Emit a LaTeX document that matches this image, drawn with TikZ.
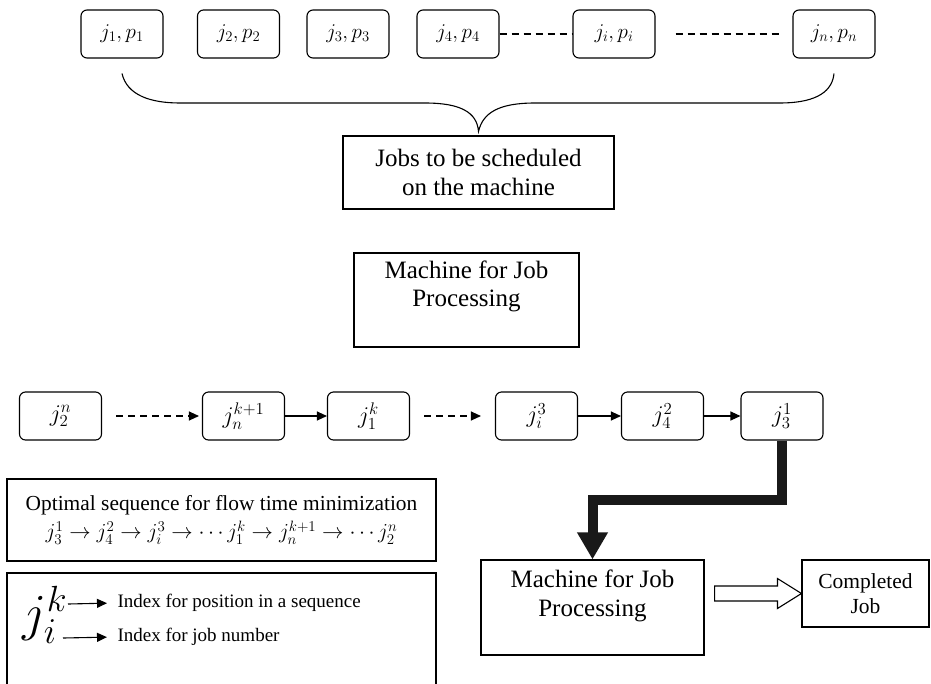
\documentclass[tikz,border=0pt]{standalone}
\usepackage{fix-cm}
\usepackage{fontspec}
\setmainfont{Liberation Serif}
\usetikzlibrary{arrows.meta,calc}

\tikzset{
  jobbox/.style={draw, line width=1.1pt, rounded corners=6pt, minimum width=82pt, minimum height=48pt, font=\fontsize{21}{24}\selectfont},
  seqbox/.style={jobbox, font=\fontsize{24}{26}\selectfont},
  plainbox/.style={draw, line width=1.1pt, align=center, font=\fontsize{25}{29}\selectfont},
  boxtext/.style={align=center, font=\fontsize{25}{28}\selectfont},
  seqarrow/.style={line width=1.1pt, -{Triangle[length=10pt,width=9pt]}},
  dots/.style={line width=1.1pt, dash pattern=on 7pt off 5pt},
}

\begin{document}
\begin{tikzpicture}[x=1pt,y=-1pt]
    \useasboundingbox (0,0) rectangle (931,683);

    % --- Jobs waiting ---
    \node[jobbox] (jp1) at (122,34) {$j_1,p_1$};
    \node[jobbox] (jp2) at (238.5,34) {$j_2,p_2$};
    \node[jobbox] (jp3) at (348,34) {$j_3,p_3$};
    \node[jobbox] (jp4) at (458,34) {$j_4,p_4$};
    \node[jobbox] (jpi) at (614,34) {$j_i,p_i$};
    \node[jobbox] (jpn) at (834,34) {$j_n,p_n$};
    \draw[dots] (jp4) -- (jpi);
    \draw[dots, shorten <=20pt, shorten >=11pt] (jpi) -- (jpn);

    % --- Brace and caption ---
    \node[plainbox, minimum width=271pt, minimum height=73pt] (jobs) at (478.5,172.5) {Jobs to be scheduled\\on the machine};
    \coordinate (brl) at ($(jp1.south)+(0,15)$);
    \coordinate (brr) at ($(jpn.south)+(0,15)$);
    \coordinate (brtip) at ($(jobs.north)+(0,-4)$);
    \draw[line width=1.1pt] (brl) .. controls (127,95) and (150,103) .. (180,103) -- (425,103)
        .. controls (460,103) and (477,112) .. (brtip)
        .. controls (483,112) and (500,103) .. (535,103) -- (780,103)
        .. controls (810,103) and (832,95) .. (brr);

    % --- Machine (idle) ---
    \node[draw, line width=1.1pt, minimum width=225pt, minimum height=94pt] (mach1) at (466.5,300) {};
    \node[boxtext, anchor=north] (mach1txt) at ($(mach1.north)+(0,5)$) {Machine for Job\\Processing};

    % --- Sequenced jobs ---
    \node[seqbox] (j2n) at (60.5,416) {$j_2^n$};
    \node[seqbox] (jnk) at (243.5,416) {$j_n^{k+1}$};
    \node[seqbox] (j1k) at (368.5,416) {$j_1^k$};
    \node[seqbox] (ji3) at (536.5,416) {$j_i^3$};
    \node[seqbox] (j42) at (662.5,416) {$j_4^2$};
    \node[seqbox] (j31) at (782,416) {$j_3^1$};
    \draw[seqarrow, dots, shorten <=14pt, shorten >=3pt] (j2n) -- (jnk);
    \draw[seqarrow] (jnk) -- (j1k);
    \draw[seqarrow, dots, shorten <=14pt, shorten >=14pt] (j1k) -- (ji3);
    \draw[seqarrow] (ji3) -- (j42);
    \draw[seqarrow] (j42) -- (j31);

    % --- Machine (busy) and output ---
    \node[draw, line width=1.1pt, minimum width=223pt, minimum height=95pt] (mach2) at (592.5,607.5) {};
    \node[boxtext, font=\fontsize{25}{29}\selectfont, anchor=north] (mach2txt) at ($(mach2.north)+(0,7)$) {Machine for Job\\Processing};
    \node[plainbox, font=\fontsize{21.5}{25}\selectfont, minimum width=127pt, minimum height=67pt] (done) at (865.5,593.5) {Completed\\Job};
    \draw[black!90, line width=10pt, -{Triangle[length=27pt,width=29pt]}] (j31.south) -- ++(0,59) -| (mach2.north);
    \draw[line width=1.1pt] let \p1=(done.west), \p2=(mach2.east) in
        (\x2+10pt,\y1+7.5pt) -- (\x1-24pt,\y1+7.5pt) -- (\x1-24pt,\y1+15pt) -- (\p1)
        -- (\x1-24pt,\y1-15pt) -- (\x1-24pt,\y1-7.5pt) -- (\x2+10pt,\y1-7.5pt) -- cycle;

    % --- Optimal sequence ---
    \node[plainbox, font=\fontsize{21.4}{28}\selectfont, minimum width=429pt, minimum height=82pt] (optseq) at (221.5,520) {Optimal sequence for flow time minimization\\$j_3^1\to j_4^2\to j_i^3\to\cdots j_1^k\to j_n^{k+1}\to\cdots j_2^n$};

    % --- Legend ---
    \draw[line width=1.1pt] (7,690) |- (436,573) -- (436,690);
    \node[font=\fontsize{52}{56}\selectfont] (jik) at (45,615) {$j_i^k$};
    \coordinate (kend) at (68,604);
    \coordinate (iend) at (63,638);
    \node[anchor=west, font=\fontsize{19}{22}\selectfont] (pos) at (114,603) {Index for position in a sequence};
    \node[anchor=west, font=\fontsize{19}{22}\selectfont] (num) at (114,637) {Index for job number};
    \draw[seqarrow, shorten >=7pt] (kend) -- (pos.west);
    \draw[seqarrow, shorten >=7pt] (iend) -- (num.west);

\end{tikzpicture}
\end{document}
